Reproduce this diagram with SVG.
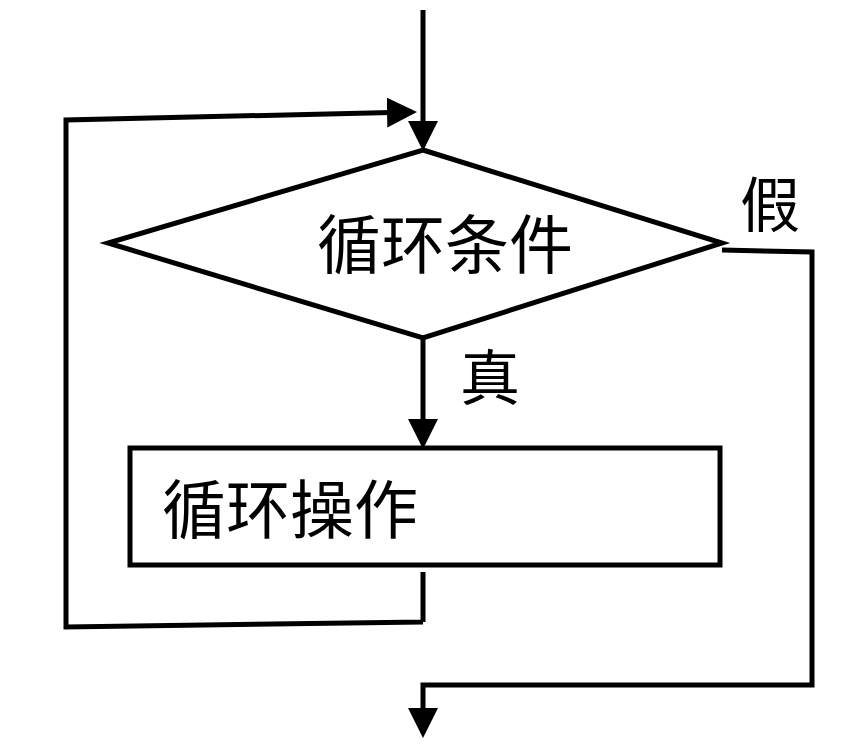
<svg xmlns="http://www.w3.org/2000/svg" width="863" height="755" viewBox="0 0 863 755">
<style>
.s{fill:none;stroke:#000;stroke-width:5}
.t{font-family:"Liberation Sans","Noto Sans CJK SC",sans-serif;fill:#000}
</style>
<defs><marker id="a" markerWidth="6" markerHeight="6" refX="5" refY="3" orient="auto" markerUnits="strokeWidth"><path d="M0,0L6,3L0,6z" fill="#000"/></marker></defs>
<rect width="863" height="755" fill="#fff"/>
<g id="connectors">
<path class="s" d="M423,10V146" marker-end="url(#a)"/>
<path class="s" d="M423,622V572M423,622L66,627V120L412,112" marker-end="url(#a)"/>
<path class="s" d="M423,338V444" marker-end="url(#a)"/>
<path class="s" d="M722,250L812,252V685H423V733" marker-end="url(#a)"/>
</g>
<g id="cond">
<polygon class="s" points="423,150 722,243 423,338 108,243"/>
<text class="t" x="445" y="268" font-size="64" text-anchor="middle">循环条件</text>
</g>
<g id="body">
<rect class="s" x="130" y="448" width="590" height="117"/>
<text class="t" x="162" y="533" font-size="64">循环操作</text>
</g>
<g id="labels">
<text class="t" x="460" y="400" font-size="60">真</text>
<text class="t" x="740" y="227" font-size="60">假</text>
</g>
</svg>
